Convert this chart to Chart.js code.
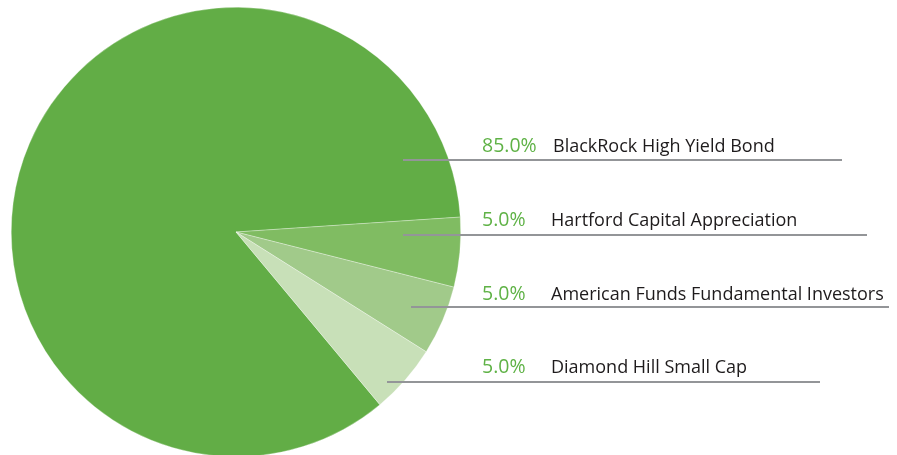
<!DOCTYPE html>
<html>
<head>
<meta charset="utf-8">
<script src="https://cdn.jsdelivr.net/npm/chart.js@4/dist/chart.umd.min.js"></script>
<style>
  html, body { margin: 0; padding: 0; background: #fff; overflow: hidden; }
  #wrap { position: relative; width: 897px; height: 462px; }
</style>
</head>
<body>
<div id="wrap"><canvas id="pie"></canvas></div>
<script>
// 数据
const funds = ['BlackRock High Yield Bond', 'Hartford Capital Appreciation', 'American Funds Fundamental Investors', 'Diamond Hill Small Cap'];
const weights = [85, 5, 5, 5];
const colors = ['#62ad46', '#80bc62', '#a1ca8a', '#c8e0b8'];

// 标注布局（引线的 y 和起止 x）
const labelLayout = [
  { y: 160, x0: 403, x1: 842, textY: 152 },
  { y: 235, x0: 403, x1: 867, textY: 226 },
  { y: 307, x0: 411, x1: 889, textY: 300 },
  { y: 382, x0: 387, x1: 820, textY: 373 }
];

// 引线和文字
const sideLabels = {
  id: 'sideLabels',
  afterDraw(chart) {
    const ctx = chart.ctx;
    ctx.save();
    labelLayout.forEach((l, i) => {
      ctx.strokeStyle = '#939598';
      ctx.lineWidth = 2;
      ctx.beginPath();
      ctx.moveTo(l.x0, l.y);
      ctx.lineTo(l.x1, l.y);
      ctx.stroke();

      ctx.textBaseline = 'alphabetic';
      ctx.font = '19.5px "Open Sans"';
      ctx.fillStyle = '#5fb246';
      ctx.fillText(weights[i].toFixed(1) + '%', 482, l.textY);
      ctx.font = '18px "Open Sans"';
      ctx.fillStyle = '#1e1b1c';
      ctx.fillText(funds[i], i === 0 ? 553 : 551, l.textY);
    });
    ctx.restore();
  }
};

new Chart(document.getElementById('pie'), {
  type: 'pie',
  data: {
    labels: funds,
    datasets: [{
      data: weights,
      backgroundColor: colors,
      borderColor: 'rgba(255,255,255,0.6)',
      borderWidth: 0.5
    }]
  },
  options: {
    responsive: true,
    maintainAspectRatio: false,
    animation: false,
    rotation: 140.2,
    layout: { padding: { left: 11, right: 436, top: 7, bottom: 5 } },
    plugins: { legend: { display: false }, tooltip: { enabled: false } }
  },
  plugins: [sideLabels]
});
</script>
</body>
</html>
